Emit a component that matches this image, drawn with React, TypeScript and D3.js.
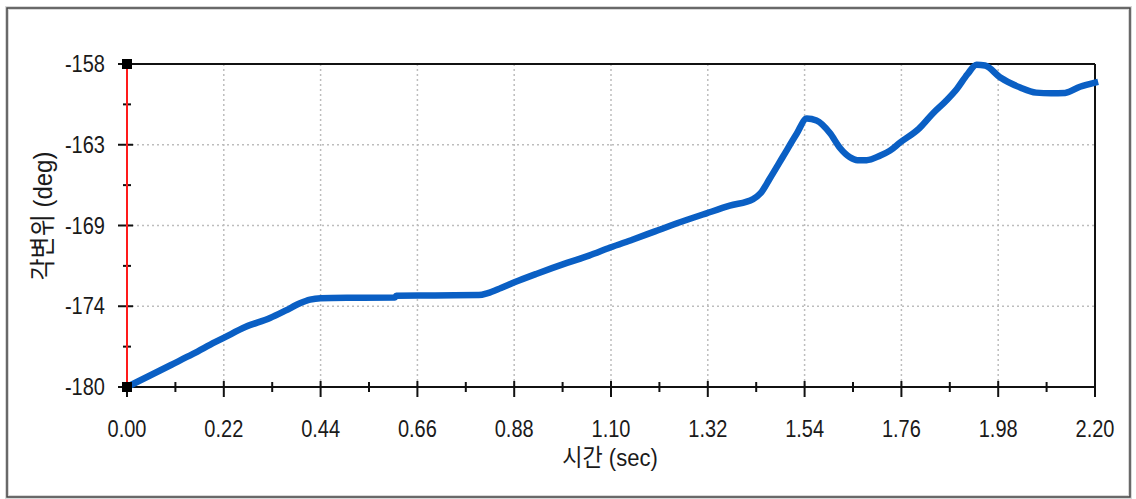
import React from "react";
import * as d3 from "d3";

const times = [0, 0.05, 0.10, 0.15, 0.20, 0.223, 0.27, 0.325, 0.36, 0.393, 0.416, 0.44, 0.52, 0.609, 0.612, 0.70, 0.80, 0.82, 0.85, 0.882, 0.93, 1.00, 1.05, 1.098, 1.15, 1.20, 1.25, 1.317, 1.37, 1.423, 1.44, 1.461, 1.491, 1.522, 1.545, 1.567, 1.598, 1.62, 1.643, 1.66, 1.681, 1.711, 1.734, 1.757, 1.80, 1.832, 1.86, 1.886, 1.91, 1.931, 1.95, 1.984, 2.03, 2.066, 2.10, 2.132, 2.166, 2.2];
const angles = [-180, -179.25, -178.5, -177.75, -176.95, -176.6, -175.9, -175.3, -174.8, -174.3, -174.05, -173.95, -173.92, -173.9, -173.78, -173.76, -173.74, -173.6, -173.25, -172.85, -172.3, -171.55, -171.05, -170.5, -169.95, -169.4, -168.85, -168.17, -167.65, -167.2, -166.8, -165.8, -164.3, -162.75, -161.72, -161.85, -162.72, -163.7, -164.35, -164.55, -164.55, -164.25, -163.9, -163.35, -162.4, -161.35, -160.55, -159.7, -158.7, -158.05, -158.1, -158.9, -159.6, -159.95, -160.0, -159.97, -159.55, -159.27];

const xTickValues = [0, 0.22, 0.44, 0.66, 0.88, 1.10, 1.32, 1.54, 1.76, 1.98, 2.20];
const xTickLabels = ["0.00", "0.22", "0.44", "0.66", "0.88", "1.10", "1.32", "1.54", "1.76", "1.98", "2.20"];
const yTickValues = [-180, -174.5, -169, -163.5, -158];
const yTickLabels = ["-180", "-174", "-169", "-163", "-158"];

const W = 1136, H = 499;
const L = 127, R = 1095, T = 64, B = 387;

export default function App() {
  const x = d3.scaleLinear().domain([0, 2.2]).range([L, R]);
  const y = d3.scaleLinear().domain([-180, -158]).range([B, T]);
  const data = times.map((t, i) => [t, angles[i]] as [number, number]);
  const line = d3.line<[number, number]>().x(d => x(d[0])).y(d => y(d[1])).curve(d3.curveMonotoneX);
  const xMinor = xTickValues.slice(0, -1).map((v, i) => (v + xTickValues[i + 1]) / 2);
  const yMinor = yTickValues.slice(0, -1).map((v, i) => (v + yTickValues[i + 1]) / 2);
  const font = "'Liberation Sans', Arial, sans-serif";
  const kr = "'Noto Sans CJK KR', sans-serif";
  return (
    <div style={{ position: "absolute", left: 0, top: 0 }}>
      <svg width={W} height={H} style={{ display: "block", background: "#fff" }}>
        <rect x={7} y={8} width={1123} height={489} fill="#fff" stroke="#d8d8d8" strokeWidth={4} />
        <rect x={7} y={8} width={1123} height={489} fill="none" stroke="#444" strokeWidth={1.5} />
        {/* grid */}
        {xTickValues.slice(1, -1).map(v => (
          <line key={"gx" + v} x1={x(v)} x2={x(v)} y1={T} y2={B} stroke="#bdbdbd" strokeWidth={1.5} strokeDasharray="2 3" />
        ))}
        {yTickValues.slice(1, -1).map(v => (
          <line key={"gy" + v} x1={L} x2={R} y1={y(v)} y2={y(v)} stroke="#bdbdbd" strokeWidth={1.5} strokeDasharray="2 3" />
        ))}
        {/* frame lines */}
        <line x1={L} x2={R} y1={T} y2={T} stroke="#111" strokeWidth={2} />
        <line x1={R} x2={R} y1={T} y2={B + 10} stroke="#111" strokeWidth={2} />
        <line x1={L} x2={R} y1={B} y2={B} stroke="#111" strokeWidth={2} />
        {/* ticks */}
        {xTickValues.map(v => (
          <line key={"xt" + v} x1={x(v)} x2={x(v)} y1={B - 6} y2={B + 10} stroke="#111" strokeWidth={2} />
        ))}
        {xMinor.map(v => (
          <line key={"xm" + v} x1={x(v)} x2={x(v)} y1={B - 5} y2={B + 5} stroke="#111" strokeWidth={2} />
        ))}
        {yTickValues.map(v => (
          <line key={"yt" + v} x1={L - 9} x2={L + 6} y1={y(v)} y2={y(v)} stroke="#111" strokeWidth={2} />
        ))}
        {yMinor.map(v => (
          <line key={"ym" + v} x1={L - 4} x2={L + 4} y1={y(v)} y2={y(v)} stroke="#111" strokeWidth={2} />
        ))}
        <line x1={L} x2={L} y1={T} y2={B} stroke="#ff1a1a" strokeWidth={2} />
        {/* data */}
        <path d={line(data) || ""} fill="none" stroke="#0a5fc4" strokeWidth={6.5} strokeLinejoin="round" strokeLinecap="square" />
        <rect x={L - 5} y={T - 5} width={10} height={10} fill="#000" />
        <rect x={L - 5} y={B - 5} width={10} height={10} fill="#000" />
        {/* labels */}
        {xTickValues.map((v, i) => (
          <text key={"xl" + v} transform={`translate(${x(v)},437) scale(1,1.15)`} textAnchor="middle" fontFamily={font} fontSize={20} fill="#1a1a1a">{xTickLabels[i]}</text>
        ))}
        {yTickValues.map((v, i) => (
          <text key={"yl" + v} transform={`translate(105,${y(v) + 8}) scale(1,1.15)`} textAnchor="end" fontFamily={font} fontSize={20} fill="#1a1a1a">{yTickLabels[i]}</text>
        ))}
        <text transform="translate(610,466) scale(1,1.1)" textAnchor="middle" fontFamily={font} fontSize={22} fill="#1a1a1a">
          <tspan fontFamily={kr}>시간</tspan> (sec)
        </text>
        <text transform="translate(52,216) rotate(-90) scale(1,1.1)" textAnchor="middle" fontFamily={font} fontSize={24} fill="#1a1a1a">
          <tspan fontFamily={kr}>각변위</tspan> (deg)
        </text>
      </svg>
    </div>
  );
}
